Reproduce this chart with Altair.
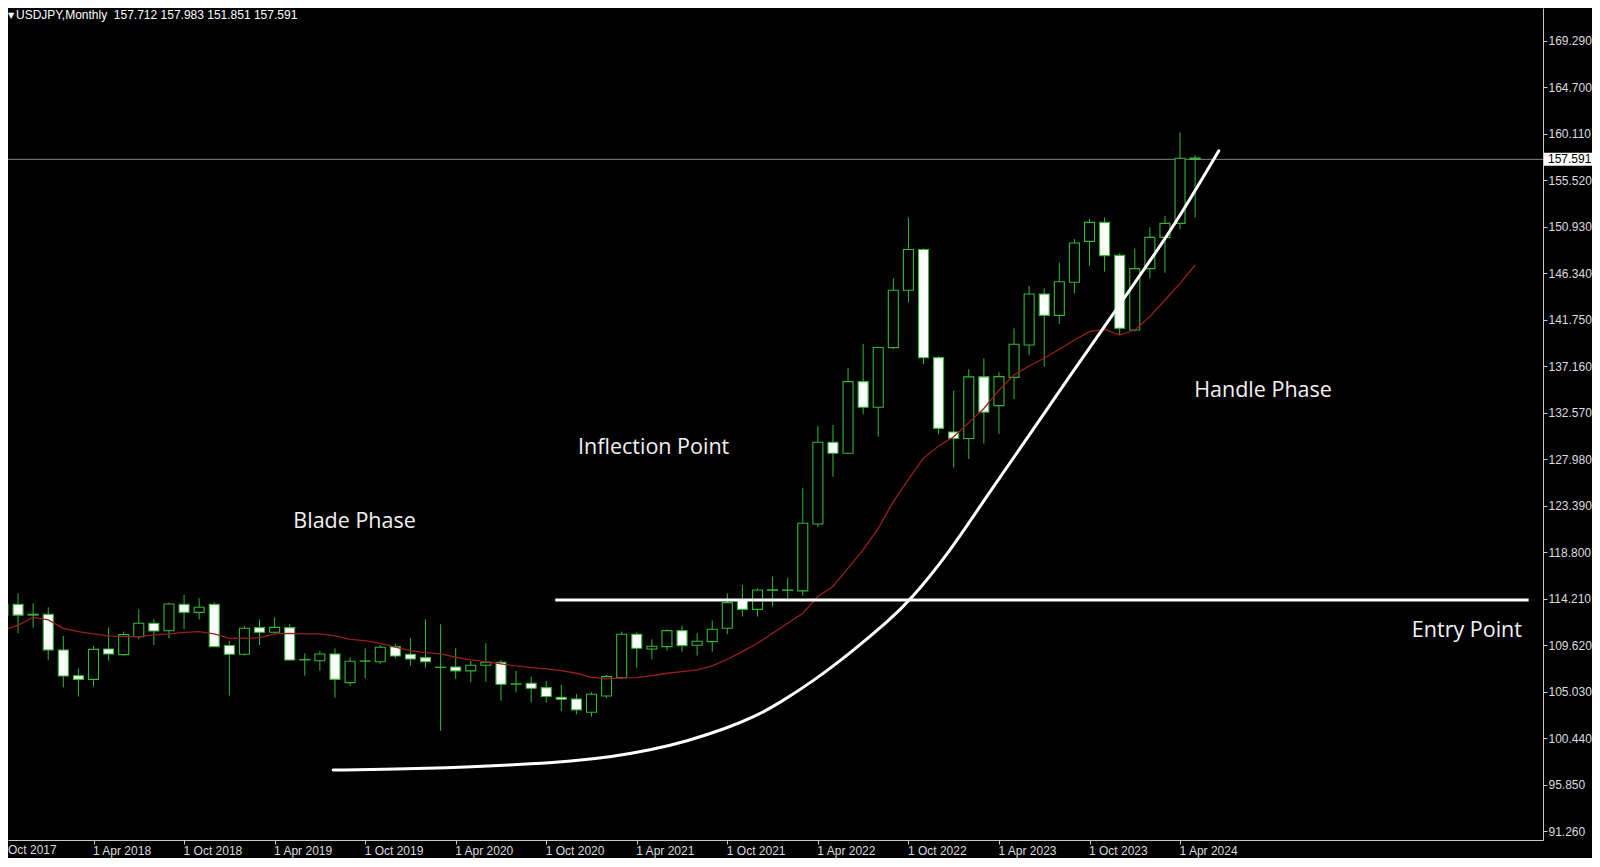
import json
import altair as alt
import pandas as pd

# ---------------- data ----------------
months = [
    "2017-10", "2017-11", "2017-12",
    "2018-01", "2018-02", "2018-03", "2018-04", "2018-05", "2018-06",
    "2018-07", "2018-08", "2018-09", "2018-10", "2018-11", "2018-12",
    "2019-01", "2019-02", "2019-03", "2019-04", "2019-05", "2019-06",
    "2019-07", "2019-08", "2019-09", "2019-10", "2019-11", "2019-12",
    "2020-01", "2020-02", "2020-03", "2020-04", "2020-05", "2020-06",
    "2020-07", "2020-08", "2020-09", "2020-10", "2020-11", "2020-12",
    "2021-01", "2021-02", "2021-03", "2021-04", "2021-05", "2021-06",
    "2021-07", "2021-08", "2021-09", "2021-10", "2021-11", "2021-12",
    "2022-01", "2022-02", "2022-03", "2022-04", "2022-05", "2022-06",
    "2022-07", "2022-08", "2022-09", "2022-10", "2022-11", "2022-12",
    "2023-01", "2023-02", "2023-03", "2023-04", "2023-05", "2023-06",
    "2023-07", "2023-08", "2023-09", "2023-10", "2023-11", "2023-12",
    "2024-01", "2024-02", "2024-03", "2024-04", "2024-05",
]
opens = [
    112.60, 113.66, 112.60,
    112.68, 109.16, 106.62, 106.26, 109.26, 108.70,
    110.47, 111.79, 111.06, 113.66, 112.87, 113.66,
    109.60, 108.73, 111.36, 110.90, 111.36, 108.22,
    108.10, 108.76, 105.93, 108.05, 108.00, 109.49,
    108.73, 108.40, 107.43, 107.48, 107.09, 107.65,
    107.94, 105.78, 105.87, 105.44, 104.49, 104.32,
    103.01, 104.62, 106.43, 110.71, 109.26, 109.49,
    111.07, 109.62, 109.98, 111.30, 114.10, 113.17,
    115.05, 115.08, 114.99, 121.60, 129.66, 128.58,
    135.65, 133.12, 139.00, 144.66, 148.69, 138.02,
    130.68, 130.03, 136.12, 133.28, 136.07, 139.26,
    144.29, 142.19, 145.45, 149.49, 151.37, 148.11,
    140.74, 146.80, 149.89, 151.27, 157.712,
]
highs = [
    114.40, 114.75, 113.76,
    113.37, 110.54, 107.35, 109.55, 111.39, 110.97,
    113.17, 112.18, 113.83, 114.59, 114.26, 113.86,
    110.05, 111.53, 112.18, 112.38, 111.72, 108.83,
    109.06, 109.32, 108.43, 109.32, 109.65, 109.75,
    110.31, 112.19, 111.70, 109.33, 108.07, 109.82,
    108.17, 107.09, 106.53, 106.10, 105.70, 104.82,
    104.98, 106.70, 110.97, 110.91, 110.21, 111.20,
    111.56, 110.81, 112.06, 114.75, 115.58, 115.25,
    116.40, 116.30, 125.12, 131.27, 131.37, 136.97,
    139.37, 139.10, 145.85, 151.87, 148.81, 138.15,
    134.76, 136.87, 137.95, 136.56, 140.91, 145.09,
    144.86, 147.39, 149.72, 151.70, 151.86, 148.31,
    148.80, 150.88, 151.99, 160.22, 157.983,
]
lows = [
    111.70, 110.80, 111.36,
    108.17, 105.47, 104.55, 105.54, 108.10, 108.60,
    110.21, 109.65, 110.31, 111.23, 112.18, 109.45,
    104.65, 108.60, 109.65, 110.74, 108.10, 106.62,
    107.12, 104.45, 105.64, 106.36, 107.77, 108.33,
    107.61, 107.42, 101.17, 106.30, 105.97, 106.03,
    104.16, 104.98, 104.00, 103.96, 103.14, 102.81,
    102.58, 104.39, 106.30, 107.42, 108.24, 109.10,
    109.00, 108.60, 109.00, 110.71, 112.45, 112.45,
    113.44, 114.10, 114.53, 121.30, 126.27, 128.50,
    132.42, 130.22, 138.87, 143.46, 137.37, 130.45,
    127.17, 128.01, 129.53, 130.48, 133.94, 138.28,
    137.12, 141.33, 144.36, 147.09, 146.50, 140.25,
    140.60, 145.84, 146.40, 150.68, 151.851,
]
closes = [
    113.66, 112.60, 112.68,
    109.16, 106.59, 106.26, 109.22, 108.76, 110.67,
    111.79, 111.03, 113.70, 112.87, 113.37, 109.49,
    108.73, 111.30, 110.90, 111.39, 108.17, 108.18,
    108.76, 106.26, 108.04, 108.08, 109.42, 108.56,
    108.27, 108.00, 107.45, 107.09, 107.65, 107.94,
    105.77, 105.82, 105.38, 104.56, 104.29, 103.24,
    104.79, 106.53, 110.71, 109.33, 109.52, 111.07,
    109.59, 110.02, 111.20, 113.83, 113.17, 115.08,
    115.10, 115.05, 121.67, 129.66, 128.58, 135.65,
    133.12, 139.02, 144.66, 148.69, 138.00, 131.03,
    130.03, 136.12, 132.64, 136.14, 139.33, 144.29,
    142.19, 145.51, 149.33, 151.37, 148.08, 140.91,
    146.80, 149.89, 151.27, 157.69, 157.591,
]
ma_values = [
    111.10, 111.60, 112.38,
    112.12, 111.30, 110.97, 110.74, 110.54, 110.47,
    110.47, 110.64, 110.74, 110.90, 110.97, 110.74,
    110.31, 110.31, 110.37, 110.74, 110.80, 110.74,
    110.74, 110.54, 110.21, 110.08, 109.82, 109.45,
    109.10, 108.90, 108.77, 108.44, 108.17, 108.00,
    107.78, 107.58, 107.42, 107.29, 107.12, 106.86,
    106.46, 106.30, 106.40, 106.43, 106.63, 106.86,
    107.02, 107.19, 107.58, 108.24, 109.00, 109.82,
    110.81, 111.80, 112.78, 114.43, 115.42, 117.23,
    119.04, 121.17, 123.80, 126.00, 128.10, 129.30,
    130.20, 131.60, 133.00, 134.80, 136.30, 137.19,
    137.95, 138.84, 139.76, 140.58, 140.81, 140.25,
    140.74, 142.06, 143.71, 145.35, 147.16,
]

# hand-drawn white "hockey stick" curve (bar index, price)
curve_idx = [21.88, 26.24, 29.52, 32.04, 35.06, 37.58, 40.36, 42.87, 45.39, 47.91,
             49.93, 51.43, 53.71, 56.23, 58.73, 60.05, 62.68, 65.31, 67.95, 70.58,
             73.21, 76.29, 78.04, 80.57]
curve_price = [97.30, 97.40, 97.52, 97.70, 97.92, 98.17, 98.62, 99.25, 100.18, 101.40,
               102.65, 103.90, 106.10, 108.95, 112.10, 113.95, 118.70, 124.62, 130.21, 135.98,
               141.56, 148.15, 152.09, 158.44]

entry_start_idx = [36.6]
entry_end_idx = [101.1]
entry_price = [114.1]

last_price = [157.591]

annotation_labels = ["Blade Phase", "Inflection Point", "Handle Phase", "Entry Point"]
annotation_idx = [19.24, 38.11, 78.94, 93.36]
annotation_price = [121.79, 129.09, 134.72, 111.03]

x_tick_labels = ["1 Oct 2017", "1 Apr 2018", "1 Oct 2018", "1 Apr 2019", "1 Oct 2019",
                 "1 Apr 2020", "1 Oct 2020", "1 Apr 2021", "1 Oct 2021", "1 Apr 2022",
                 "1 Oct 2022", "1 Apr 2023", "1 Oct 2023", "1 Apr 2024"]
x_tick_idx = [0, 6, 12, 18, 24, 30, 36, 42, 48, 54, 60, 66, 72, 78]
y_tick_values = [91.26, 95.85, 100.44, 105.03, 109.62, 114.21, 118.80, 123.39, 127.98,
                 132.57, 137.16, 141.75, 146.34, 150.93, 155.52, 160.11, 164.70, 169.29]

header_text = ["USDJPY,Monthly \u00a0157.712 157.983 151.851 157.591"]

# ---------------- styling / layout ----------------
GREEN = "#34b834"
MA_RED = "#9a1f1f"
AXIS_COLOR = "#c8c8c8"
LABEL_COLOR = "#dcdcdc"
SMALL_FONT = "Liberation Sans"

SVG_W, SVG_H = 1584, 850     # page is 1600x867 with an 8px body margin
W, H = 1535, 832             # plot area

df = pd.DataFrame({
    "month": months,
    "idx": list(range(len(months))),
    "open": opens, "high": highs, "low": lows, "close": closes, "ma": ma_values,
})
curve_df = pd.DataFrame({"idx": curve_idx, "price": curve_price})
entry_df = pd.DataFrame({"start": entry_start_idx, "end": entry_end_idx, "price": entry_price})
last_df = pd.DataFrame({"price": last_price})
ann_df = pd.DataFrame({"label": annotation_labels, "idx": annotation_idx, "price": annotation_price})
header_df = pd.DataFrame({"t": header_text})
first_label_df = pd.DataFrame({"t": [x_tick_labels[0].replace("1 ", "", 1)]})

x_scale = alt.Scale(domain=[0.665, 101.72], nice=False, zero=False)
y_scale = alt.Scale(domain=[90.40, 172.528], nice=False, zero=False)

axis_labels_js = json.dumps(x_tick_labels[1:])
x_axis = alt.Axis(
    values=x_tick_idx[1:],
    labelExpr=f"{axis_labels_js}[round(datum.value / 6) - 1]",
    title=None, orient="bottom", grid=False,
    domainColor=AXIS_COLOR, domainWidth=1, tickColor=AXIS_COLOR, tickSize=4, tickWidth=1,
    labelColor=LABEL_COLOR, labelFont=SMALL_FONT, labelFontSize=12,
    labelAlign="left", labelBaseline="top", labelPadding=1, labelOffset=-1,
    labelOverlap=False, labelFlush=False, labelBound=False,
)
y_axis = alt.Axis(
    values=y_tick_values,
    labelExpr="format(datum.value, '.3f')",
    title=None, orient="right", grid=False,
    domainColor=AXIS_COLOR, domainWidth=1, tickColor=AXIS_COLOR, tickSize=4, tickWidth=1,
    labelColor=LABEL_COLOR, labelFont=SMALL_FONT, labelFontSize=12,
    labelAlign="left", labelBaseline="middle", labelPadding=1,
    labelOverlap=False, labelFlush=False, labelBound=False,
)


def X(field, **kw):
    return alt.X(field, type="quantitative", scale=x_scale, axis=x_axis, **kw)


def Y(field, **kw):
    return alt.Y(field, type="quantitative", scale=y_scale, axis=y_axis, **kw)


base = alt.Chart(df)

wicks = base.mark_rule(color=GREEN, strokeWidth=1, clip=True).encode(
    x=X("idx"), y=Y("low"), y2="high"
)
bodies = base.mark_bar(size=10, stroke=GREEN, strokeWidth=1.1, clip=True).encode(
    x=X("idx"), y=Y("open"), y2="close",
    fill=alt.condition("datum.close >= datum.open", alt.value("#000000"), alt.value("#ffffff")),
)
ma_line = base.mark_line(color=MA_RED, strokeWidth=1.3, clip=True).encode(
    x=X("idx"), y=Y("ma")
)
curve = alt.Chart(curve_df).mark_line(
    color="#ffffff", strokeWidth=3, clip=True, interpolate="basis", strokeCap="round"
).encode(x=X("idx"), y=Y("price"))
entry = alt.Chart(entry_df).mark_rule(color="#ffffff", strokeWidth=3, clip=True).encode(
    x=X("start"), x2="end", y=Y("price")
)
current = alt.Chart(last_df).mark_rule(color="#7f8790", strokeWidth=1).encode(y=Y("price"))
price_box = alt.Chart(last_df).transform_calculate(
    top="datum.price + 0.64", bot="datum.price - 0.64"
).mark_rect(color="#ffffff").encode(
    x=alt.value(W + 1), x2=alt.value(SVG_W), y=Y("top"), y2="bot"
)
price_text = alt.Chart(last_df).mark_text(
    align="left", baseline="middle", font=SMALL_FONT, fontSize=12, color="#000000"
).encode(x=alt.value(W + 5), y=Y("price"), text=alt.Text("price:Q", format=".3f"))

annotations = alt.Chart(ann_df).mark_text(
    align="left", baseline="middle", font="Open Sans", fontSize=21.5, color="#f2f2f2"
).encode(x=X("idx"), y=Y("price"), text="label:N")

first_label = alt.Chart(first_label_df).mark_text(
    align="left", baseline="top", font=SMALL_FONT, fontSize=12, color=LABEL_COLOR
).encode(x=alt.value(0), y=alt.value(H + 5), text="t:N")

header = alt.Chart(header_df).mark_text(
    align="left", baseline="top", font=SMALL_FONT, fontSize=12, color="#ffffff"
).encode(x=alt.value(8), y=alt.value(2), text="t:N")
header_tri = alt.Chart(pd.DataFrame({"t": ["\u25bc"]})).mark_text(
    align="left", baseline="top", font="DejaVu Sans", fontSize=8, color="#ffffff"
).encode(x=alt.value(0), y=alt.value(4), text="t:N")

chart = alt.layer(
    current, wicks, bodies, ma_line, entry, curve, annotations,
    price_box, price_text, first_label, header, header_tri,
).properties(
    width=W, height=H,
    autosize=alt.AutoSizeParams(type="none"),
    padding={"left": 0, "top": 0, "right": SVG_W - W, "bottom": SVG_H - H},
    background="#000000",
).configure_view(strokeWidth=0)

chart.save("out.html", embed_options={"renderer": "svg", "actions": False})
